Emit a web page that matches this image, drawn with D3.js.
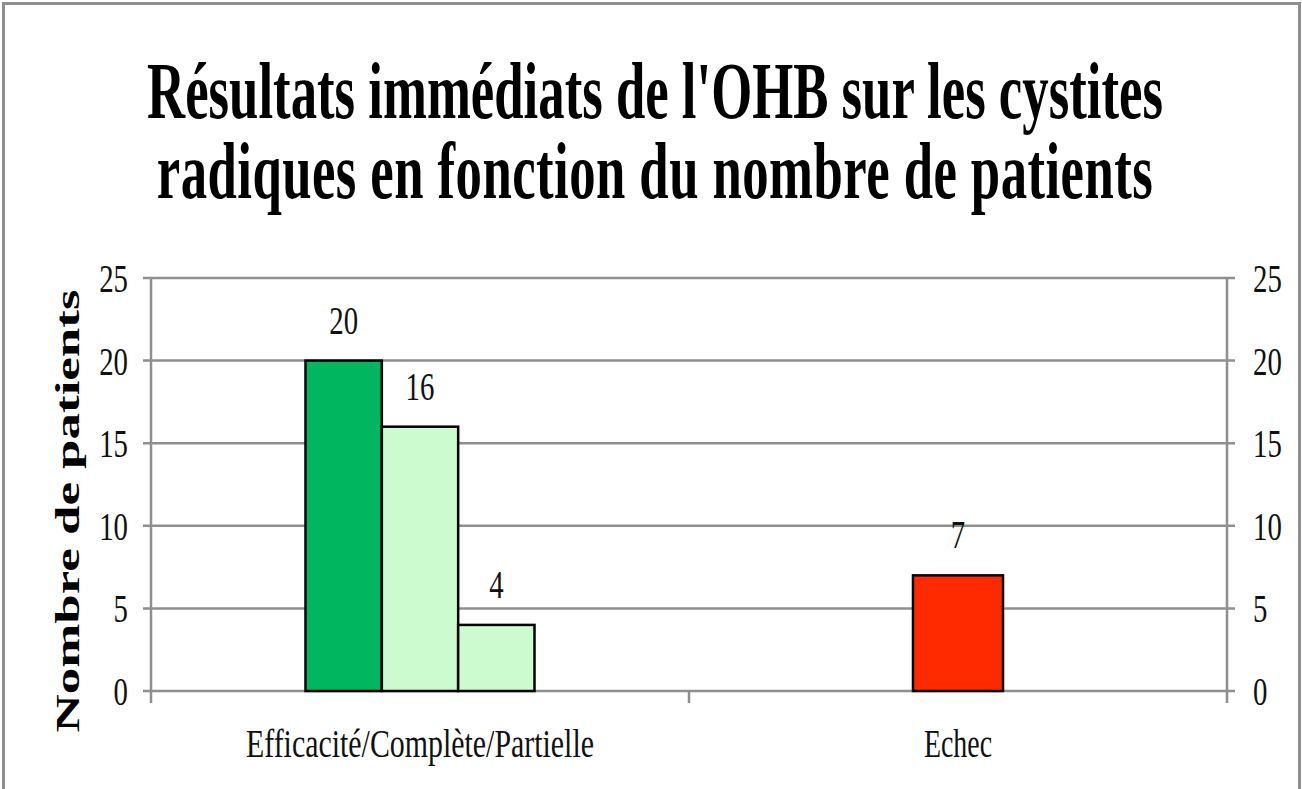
<!DOCTYPE html>
<html><head><meta charset="utf-8">
<script src="https://cdn.jsdelivr.net/npm/d3@7"></script>
<style>body{margin:0;background:#fff}svg{display:block}</style>
</head><body>
<script>
const titleLines = ["Résultats immédiats de l'OHB sur les cystites", "radiques en fonction du nombre de patients"];
const categories = ["Efficacité/Complète/Partielle", "Echec"];
const efficaciteSeries = ["Efficacité", "Complète", "Partielle"];
const efficaciteValues = [20, 16, 4];
const echecValues = [7];
const yTicks = [0, 5, 10, 15, 20, 25];
const yLabel = "Nombre de patients";
const colors = {"Efficacité":"#00b65e","Complète":"#ccfbcf","Partielle":"#ccfbcf","Echec":"#ff2a00"};

const W = 1302, H = 789;
const svg = d3.select("body").append("svg").attr("width", W).attr("height", H);
const FONT = "'Liberation Serif', 'DejaVu Serif', serif";

function squeeze(sel, ratio){
  sel.each(function(){
    const n = this.getComputedTextLength();
    d3.select(this).attr("textLength", n*ratio).attr("lengthAdjust","spacingAndGlyphs");
  });
}

// frame
svg.append("rect").attr("x",3.5).attr("y",3.5).attr("width",1296).attr("height",800)
  .attr("fill","none").attr("stroke","#8e8e8e").attr("stroke-width",3);

// title: one text element, two lines, condensed by a horizontal scale
const titleWidths = [1016, 996];
const tg = svg.append("g").attr("transform","translate(655,118)");
const tt = tg.append("text").attr("text-anchor","middle")
  .attr("font-family",FONT).attr("font-weight","bold").attr("font-size",80).attr("fill","#000");
const tspans = tt.selectAll("tspan").data(titleLines).join("tspan")
  .attr("x",0).attr("y",(d,i)=>i*80).text(d=>d);
const tn = tspans.nodes();
const sx = titleWidths[0]/tn[0].getComputedTextLength();
const len2 = tn[1].getComputedTextLength();
const ls2 = (titleWidths[1]/sx - len2)/(titleLines[1].length-1);
d3.select(tn[1]).attr("letter-spacing", ls2);
tt.attr("transform",`scale(${sx},1)`);

const x0 = d3.scaleBand().domain(categories).range([151,1227]);
const y = d3.scaleLinear().domain([0,25]).range([691,278]);

const grid = "#8f8f8f";
svg.append("g").selectAll("line").data(yTicks).join("line")
  .attr("x1",143).attr("x2",1235).attr("y1",d=>y(d)).attr("y2",d=>y(d))
  .attr("stroke",grid).attr("stroke-width",2.5);
svg.append("line").attr("x1",151).attr("x2",151).attr("y1",y(25)).attr("y2",703).attr("stroke",grid).attr("stroke-width",2.5);
svg.append("line").attr("x1",1227).attr("x2",1227).attr("y1",y(25)).attr("y2",703).attr("stroke",grid).attr("stroke-width",2.5);
svg.append("line").attr("x1",x0("Echec")).attr("x2",x0("Echec")).attr("y1",691).attr("y2",703).attr("stroke",grid).attr("stroke-width",2.5);

// tick labels
svg.append("g").selectAll("text").data(yTicks).join("text")
  .attr("x",128).attr("y",d=>y(d)+14).attr("text-anchor","end")
  .attr("font-family",FONT).attr("font-size",40).attr("fill","#111").text(d=>d).call(squeeze,0.72);
svg.append("g").selectAll("text").data(yTicks).join("text")
  .attr("x",1253).attr("y",d=>y(d)+14).attr("text-anchor","start")
  .attr("font-family",FONT).attr("font-size",40).attr("fill","#111").text(d=>d).call(squeeze,0.72);

// category labels
const catWidths = [348, 68];
svg.append("g").selectAll("text").data(categories).join("text")
  .attr("x",d=>x0(d)+x0.bandwidth()/2).attr("y",757).attr("text-anchor","middle")
  .attr("font-family",FONT).attr("font-size",40).attr("fill","#111").text(d=>d)
  .attr("textLength",(d,i)=>catWidths[i]).attr("lengthAdjust","spacingAndGlyphs");

// y-axis title
svg.append("text").attr("transform","translate(79,511) rotate(-90)").attr("text-anchor","middle")
  .attr("font-family",FONT).attr("font-weight","bold").attr("font-size",34).attr("fill","#000")
  .attr("textLength",443).attr("lengthAdjust","spacingAndGlyphs").text(yLabel);

// bars
const bars = [];
const groupWidth1 = 229;
const c1 = x0(categories[0])+x0.bandwidth()/2;
const x1 = d3.scaleBand().domain(efficaciteSeries).range([c1-groupWidth1/2, c1+groupWidth1/2]);
efficaciteSeries.forEach((s,i)=>bars.push({key:s, v:efficaciteValues[i], x:x1(s), w:x1.bandwidth()}));
const echecW = 90;
echecValues.forEach(v=>bars.push({key:"Echec", v, x:x0("Echec")+x0.bandwidth()/2-echecW/2, w:echecW}));

svg.append("g").selectAll("rect").data(bars).join("rect")
  .attr("x",d=>d.x).attr("y",d=>y(d.v)).attr("width",d=>d.w).attr("height",d=>y(0)-y(d.v))
  .attr("fill",d=>colors[d.key]).attr("stroke","#000").attr("stroke-width",2.5);

svg.append("g").selectAll("text").data(bars).join("text")
  .attr("x",d=>d.x+d.w/2).attr("y",d=>y(d.v)-27).attr("text-anchor","middle")
  .attr("font-family",FONT).attr("font-size",40).attr("fill","#111").text(d=>d.v).call(squeeze,0.72);
</script>
</body></html>
